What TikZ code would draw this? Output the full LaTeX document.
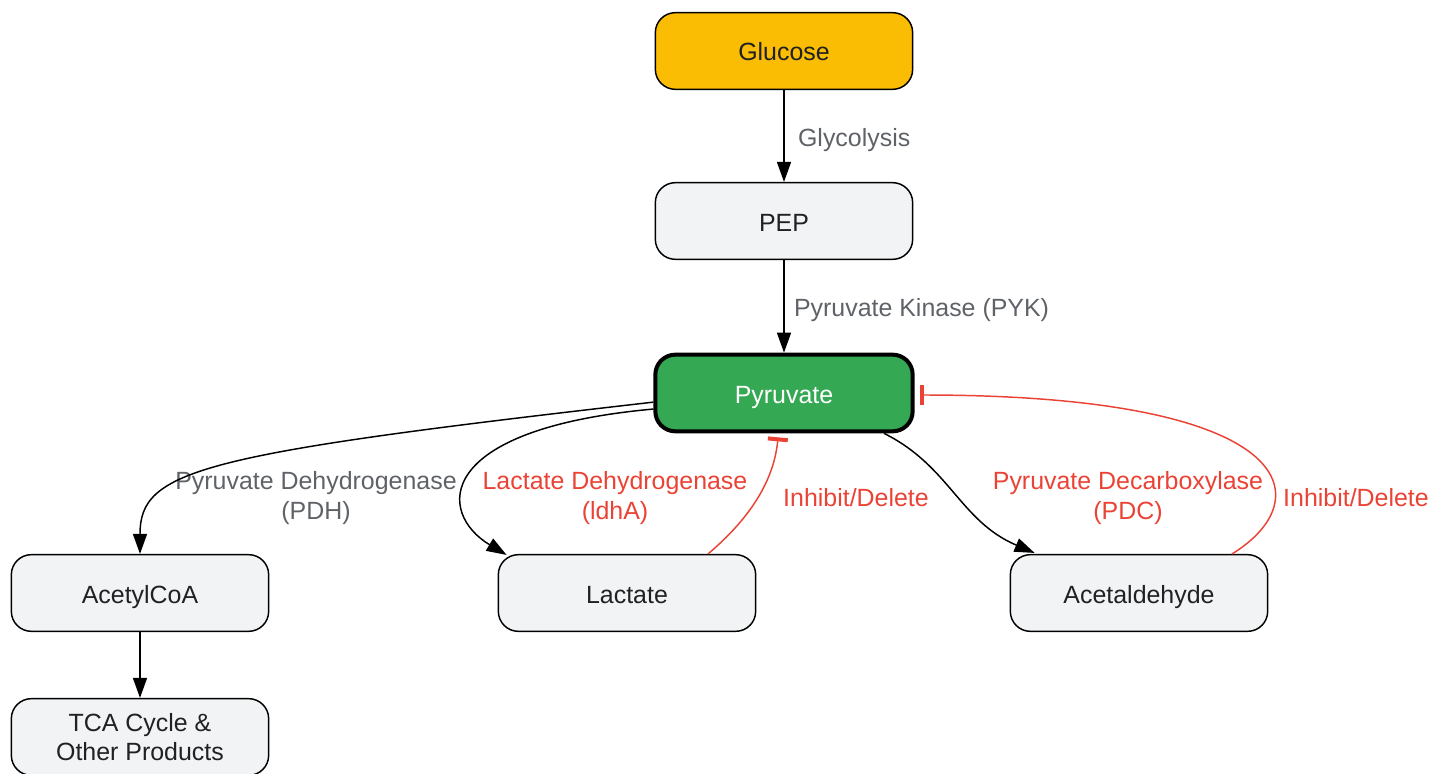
\documentclass[tikz,border=0pt]{standalone}
\usepackage{fontspec}
\setmainfont{Liberation Sans}
\usepackage{xcolor}
\usetikzlibrary{arrows.meta,positioning,calc}
\definecolor{boxgray}{HTML}{F1F3F4}
\definecolor{boxtext}{HTML}{202124}
\definecolor{lblgray}{HTML}{5F6368}
\definecolor{inhred}{HTML}{EA4335}
\definecolor{pyrgreen}{HTML}{34A853}
\definecolor{glcyellow}{HTML}{FBBC04}

\begin{document}
\begin{tikzpicture}[
    x=0.75pt, y=-0.75pt,
    box/.style={rectangle, draw=black, line width=1.1pt, rounded corners=15pt, minimum width=193pt, minimum height=57.5pt, fill=boxgray, text=boxtext, align=center, font=\fontsize{18.7}{22}\selectfont},
    oneline/.style={text height=15pt, text depth=0pt},
    lbl/.style={align=center, inner sep=1pt, yshift=-3pt, text=lblgray, font=\fontsize{18.7}{22}\selectfont},
    redlbl/.style={lbl, text=inhred},
    arrow/.style={-{Triangle[length=15pt, width=10.5pt]}, line width=1.1pt, black},
    inhibit/.style={-{Bar[width=15pt, line width=3pt]}, line width=1.1pt, inhred}
]
    \useasboundingbox (0,0) rectangle (1446,774);

    % Main pathway
    \node[box, oneline, fill=glcyellow] (glucose) at (784,51) {Glucose};
    \node[box, oneline] (pep) at (784,221) {PEP};
    \node[box, oneline, fill=pyrgreen, text=white, line width=3pt] (pyruvate) at (784,393) {Pyruvate};

    % Products
    \node[box, oneline] (acetyl) at (140,593) {AcetylCoA};
    \node[box, oneline] (lactate) at (627,593) {Lactate};
    \node[box, oneline] (acetald) at (1139,593) {Acetaldehyde};
    \node[box] (tca) at (140,737) {TCA Cycle \&\\Other Products};

    % Enzyme labels
    \node[lbl] (pdhlbl) at (316,494) {Pyruvate Dehydrogenase\\(PDH)};
    \node[redlbl] (ldhlbl) at (615,494) {Lactate Dehydrogenase\\(ldhA)};
    \node[redlbl] (inhlbl1) at (856,494) {Inhibit/Delete};
    \node[redlbl] (pdclbl) at (1128,494) {Pyruvate Decarboxylase\\(PDC)};
    \node[redlbl] (inhlbl2) at (1356,494) {Inhibit/Delete};

    % Arrows
    \draw[arrow] (glucose) -- node[lbl, right=9pt, name=glylbl] {Glycolysis} (pep);
    \draw[arrow] (pep) -- node[lbl, right=6pt, name=pyklbl] {Pyruvate Kinase (PYK)} (pyruvate);
    \draw[arrow] (pyruvate.184) .. controls +(-455,52) and +(0,-84) .. (acetyl.north);
    \draw[arrow] (pyruvate.187) .. controls +(-220,20) and +(-70,-42) .. ($(lactate.north west)+(9,1)$);
    \draw[arrow] ($(pyruvate.south)+(100,0)$) .. controls +(66,33) and +(-75,-32) .. ($(acetald.north west)+(25,-1)$);
    \draw[arrow] (acetyl) -- (tca);

    % Inhibition
    \draw[inhibit] ($(lactate.north)+(81,0)$) .. controls +(52,-44) and +(-3,33) .. ($(pyruvate.south)+(-6,4)$);
    \draw[inhibit] ($(acetald.north)+(93,0)$) .. controls +(88,-54) and +(382,0) .. ($(pyruvate.east)+(5,2)$);
\end{tikzpicture}
\end{document}
